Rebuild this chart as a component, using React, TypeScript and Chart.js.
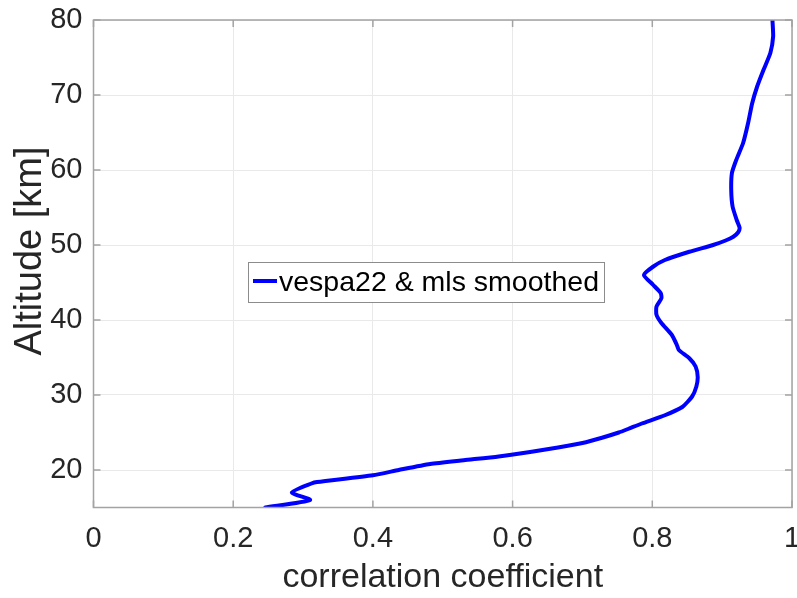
import React, { useEffect, useRef } from "react";
import { Chart, registerables } from "chart.js";

Chart.register(...registerables);

const altitudeKm = [
  15.0, 16.0, 17.0, 18.2, 18.4, 19.3, 20.0, 20.8, 21.3, 21.8, 22.4, 23.0, 23.6, 24.3, 25.0, 25.5,
  26.2, 27.3, 28.4, 29.8, 31.1, 32.4, 33.8, 34.9, 36.0, 36.7, 38.0, 39.6, 40.7, 41.8, 42.9,
  43.6, 44.7, 46.0, 47.1, 48.0, 49.1, 50.0, 50.6, 51.1, 51.7, 52.3, 53.3, 55.1, 57.3, 59.6,
  61.3, 63.6, 66.2, 68.9, 71.1, 73.3, 75.6, 77.8, 80.0,
];
const correlation = [
  0.246, 0.31, 0.284, 0.312, 0.32, 0.4, 0.437, 0.482, 0.53, 0.58, 0.625, 0.665, 0.7, 0.728, 0.752, 0.766,
  0.785, 0.818, 0.843, 0.857, 0.863, 0.865, 0.862, 0.853, 0.838, 0.835, 0.828, 0.813, 0.806, 0.806, 0.813,
  0.812, 0.801, 0.788, 0.801, 0.818, 0.853, 0.887, 0.905, 0.916, 0.923, 0.925, 0.921, 0.915, 0.913, 0.914,
  0.92, 0.93, 0.937, 0.943, 0.95, 0.959, 0.969, 0.973, 0.972,
];
const xTicks = [0, 0.2, 0.4, 0.6, 0.8, 1];
const yTicks = [20, 30, 40, 50, 60, 70, 80];
const seriesLabel = "vespa22 & mls smoothed";
const xTitle = "correlation coefficient";
const yTitle = "Altitude [km]";

const FONT = '"Liberation Sans", Arial, Helvetica, sans-serif';
const TEXT = "#262626";
const AXIS = "#a3a3a3";
const GRID = "#e9e9e9";
const BLUE = "#0000ff";

const framePlugin = {
  id: "frameTicks",
  afterDraw(chart: any) {
    const { ctx, chartArea, scales } = chart;
    const { left, right, top, bottom } = chartArea;
    const L = 7;
    ctx.save();
    ctx.strokeStyle = AXIS;
    ctx.lineWidth = 1.5;
    ctx.beginPath();
    for (const v of xTicks) {
      const px = scales.x.getPixelForValue(v);
      ctx.moveTo(px, bottom);
      ctx.lineTo(px, bottom - L);
      ctx.moveTo(px, top);
      ctx.lineTo(px, top + L);
    }
    for (const v of yTicks) {
      const py = scales.y.getPixelForValue(v);
      ctx.moveTo(left, py);
      ctx.lineTo(left + L, py);
      ctx.moveTo(right, py);
      ctx.lineTo(right - L, py);
    }
    ctx.stroke();
    ctx.strokeRect(left, top, right - left, bottom - top);
    ctx.restore();
  },
};

const yTitlePlugin = {
  id: "yTitleText",
  afterDraw(chart: any) {
    const { ctx } = chart;
    ctx.save();
    ctx.translate(31, 251);
    ctx.rotate(-Math.PI / 2);
    ctx.font = `38px ${FONT}`;
    ctx.fillStyle = TEXT;
    ctx.textAlign = "center";
    ctx.textBaseline = "middle";
    ctx.fillText(yTitle, 0, 0);
    ctx.restore();
  },
};

const legendPlugin = {
  id: "boxLegend",
  afterDraw(chart: any) {
    const { ctx } = chart;
    const x0 = 248;
    const y0 = 262;
    const h = 40;
    ctx.save();
    ctx.font = `28.5px ${FONT}`;
    const tw = ctx.measureText(seriesLabel).width;
    const textX = 279;
    const w = textX + tw + 5 - x0;
    ctx.fillStyle = "#ffffff";
    ctx.fillRect(x0, y0, w, h);
    ctx.strokeStyle = "#8c8c8c";
    ctx.lineWidth = 1;
    ctx.strokeRect(x0 + 0.5, y0 + 0.5, w, h);
    ctx.strokeStyle = BLUE;
    ctx.lineWidth = 4;
    ctx.beginPath();
    ctx.moveTo(253, y0 + 19);
    ctx.lineTo(277, y0 + 19);
    ctx.stroke();
    ctx.fillStyle = "#000000";
    ctx.textBaseline = "middle";
    ctx.textAlign = "left";
    ctx.fillText(seriesLabel, textX, y0 + h / 2 + 1);
    ctx.restore();
  },
};

export default function App() {
  const ref = useRef<HTMLCanvasElement | null>(null);

  useEffect(() => {
    document.body.style.margin = "0";
    const canvas = ref.current;
    if (!canvas) return;
    const points = altitudeKm.map((a, i) => ({ x: correlation[i], y: a }));
    const chart = new Chart(canvas, {
      type: "scatter",
      data: {
        datasets: [
          {
            label: seriesLabel,
            data: points,
            showLine: true,
            borderColor: BLUE,
            backgroundColor: BLUE,
            borderWidth: 4,
            pointRadius: 0,
            tension: 0.2,
            borderJoinStyle: "round",
            borderCapStyle: "round",
          } as any,
        ],
      },
      options: {
        animation: false,
        responsive: false,
        devicePixelRatio: 1,
        layout: { autoPadding: false, padding: { top: 20, right: 5, left: 0, bottom: 0 } } as any,
        plugins: {
          legend: { display: false },
          tooltip: { enabled: false },
        },
        scales: {
          x: {
            type: "linear",
            min: 0,
            max: 1,
            afterBuildTicks: (s: any) => {
              s.ticks = xTicks.map((v) => ({ value: v }));
            },
            afterFit: (s: any) => {
              s.height = 90.5;
              s.paddingLeft = 0;
              s.paddingRight = 0;
              s.paddingTop = 0;
              s.paddingBottom = 0;
            },
            grid: { color: GRID, lineWidth: 1, drawTicks: false },
            border: { display: false },
            ticks: {
              color: TEXT,
              font: { family: FONT, size: 29 },
              padding: 14,
              maxRotation: 0,
              callback: (v: any) => String(v),
            },
            title: {
              display: true,
              text: xTitle,
              color: TEXT,
              font: { family: FONT, size: 34 },
              padding: { top: 0, bottom: 0 },
            },
          },
          y: {
            type: "linear",
            min: 15,
            max: 80,
            afterBuildTicks: (s: any) => {
              s.ticks = yTicks.map((v) => ({ value: v }));
            },
            afterFit: (s: any) => {
              s.width = 93.5;
              s.paddingLeft = 0;
              s.paddingRight = 0;
              s.paddingTop = 0;
              s.paddingBottom = 0;
            },
            grid: { color: GRID, lineWidth: 1, drawTicks: false },
            border: { display: false },
            ticks: {
              color: TEXT,
              font: { family: FONT, size: 29 },
              padding: 11,
              callback: (v: any) => String(v),
            },
            title: { display: false, text: yTitle },
          },
        },
      },
      plugins: [framePlugin, legendPlugin, yTitlePlugin],
    });
    return () => chart.destroy();
  }, []);

  return (
    <div style={{ width: 797, height: 598 }}>
      <canvas ref={ref} width={797} height={598} style={{ display: "block" }} />
    </div>
  );
}
